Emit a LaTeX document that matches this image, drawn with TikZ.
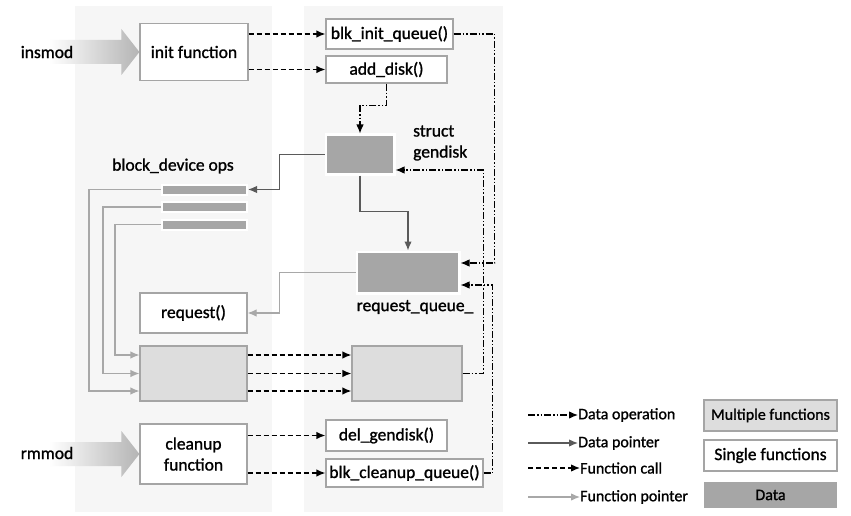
\documentclass[tikz,border=0pt]{standalone}
\usepackage{fontspec}
\setmainfont{Carlito}[RawFeature={embolden=1.2}]
\usetikzlibrary{arrows.meta,calc,backgrounds}

\definecolor{panelgray}{RGB}{246,246,246}
\definecolor{boxgray}{RGB}{165,165,165}
\definecolor{multgray}{RGB}{221,221,221}
\definecolor{datagray}{RGB}{166,166,166}
\definecolor{ptrgray}{RGB}{90,90,90}
\definecolor{fptrgray}{RGB}{168,168,168}
\definecolor{bigarrow}{RGB}{180,180,180}

\tikzset{
  lbl/.style={font=\fontsize{17.5}{21}\selectfont, inner sep=0pt},
  legend/.style={font=\fontsize{16}{19}\selectfont, inner sep=0pt},
  fnbox/.style={lbl, draw=boxgray, line width=1.2pt, fill=white, align=center},
  multbox/.style={draw=boxgray, line width=1.2pt, fill=multgray},
  databox/.style={draw=white, line width=2.5pt, fill=datagray},
  opsbar/.style={databox, line width=2pt, minimum width=85, minimum height=10},
  tip/.style={-{Latex[length=9pt,width=7.5pt]}},
  dataop/.style={tip, line width=1.2pt, dash pattern=on 7pt off 2pt on 1.5pt off 2pt on 1.5pt off 2pt},
  dptr/.style={tip, line width=1.3pt, draw=ptrgray},
  fcall/.style={tip, line width=1.3pt, dash pattern=on 5pt off 3pt},
  fptr/.style={tip, line width=1.2pt, draw=fptrgray},
}

\begin{document}
\begin{tikzpicture}[x=1pt,y=-1pt]
        \useasboundingbox (0,0) rectangle (851,516);

        % module entry points
        \node[lbl] (insmod) at (47,52) {insmod};
        \node[lbl] (rmmod) at (47,453) {rmmod};
        \node[fnbox, minimum width=108, minimum height=57] (initfn) at (194,52) {init function};
        \node[fnbox, minimum width=107, minimum height=60] (cleanup) at (193.5,454) {cleanup\\function};

        % kernel calls
        \node[fnbox, minimum width=127, minimum height=30] (blkinit) at (389.5,34) {blk\_init\_queue()};
        \node[fnbox, minimum width=121, minimum height=27] (adddisk) at (386.5,69.5) {add\_disk()};
        \node[fnbox, minimum width=121, minimum height=31] (delgd) at (386.5,435.5) {del\_gendisk()};
        \node[fnbox, minimum width=157, minimum height=28] (blkclean) at (404.5,473) {blk\_cleanup\_queue()};

        % data
        \node[databox, minimum width=68.5, minimum height=39.5] (gendisk) at (360,154.5) {};
        \node[lbl, anchor=west, align=left] (gdlabel) at (413,143) {struct\\gendisk};
        \node[databox, minimum width=102.5, minimum height=41.5] (reqq) at (408,272.5) {};
        \node[lbl] (rqlabel) at (415,307) {request\_queue\_};
        \node[lbl] (opslabel) at (173,166) {block\_device ops};
        \node[opsbar] (ops1) at (204.5,189.5) {};
        \node[opsbar] (ops2) at (204.5,207) {};
        \node[opsbar] (ops3) at (204.5,224.5) {};

        % functions
        \node[fnbox, minimum width=107, minimum height=40] (request) at (193.5,313) {request()};
        \node[multbox, minimum width=107, minimum height=55] (multl) at (193.5,373.5) {};
        \node[multbox, minimum width=110, minimum height=55] (multr) at (407,373.5) {};

        % function calls
        \draw[fcall] (initfn.east |- blkinit.west) -- (blkinit.west);
        \draw[fcall] (initfn.east |- adddisk.west) -- (adddisk.west);
        \draw[fcall] (cleanup.east |- delgd.west) -- (delgd.west);
        \draw[fcall] (cleanup.east |- blkclean.west) -- (blkclean.west);
        \foreach \dy in {-18.5,0,17.5}
          \draw[fcall] ($(multl.east)+(0,\dy)$) -- ($(multr.west)+(0,\dy)$);

        % data operations
        \draw[dataop] (adddisk.south) |- ($(gendisk.north)+(0,-28)$) -- (gendisk.north);
        \draw[dataop] (blkinit.east) -- ++(41,0) |- ($(reqq.east)+(0,-9.5)$);
        \draw[dataop] (blkclean.east) -- ++(9,0) |- ($(reqq.east)+(0,12.5)$);
        \draw[dataop] (multr.east) -- ++(21,0) |- ($(gendisk.east)+(0,15.5)$);

        % data pointers
        \draw[dptr] (gendisk.west) -- ++(-45,0) |- (ops1.east);
        \draw[dptr] (gendisk.south) -- ++(0,36) -| (reqq.north);

        % function pointers
        \draw[fptr] (reqq.west) -- ++(-76,0) |- (request.east);
        \draw[fptr] (ops1.west) -- ++(-72,0) |- ($(multl.west)+(0,17.5)$);
        \draw[fptr] (ops2.west) -- ++(-58,0) |- (multl.west);
        \draw[fptr] (ops3.west) -- ++(-46,0) |- ($(multl.west)+(0,-18.5)$);

        % legend
        \node[legend, anchor=west] (lgop) at (578,415) {Data operation};
        \node[legend, anchor=west] (lgptr) at (578,443) {Data pointer};
        \node[legend, anchor=west] (lgcall) at (580,468) {Function call};
        \node[legend, anchor=west] (lgfptr) at (580,497) {Function pointer};
        \coordinate (lgopstart) at (528,415);
        \coordinate (lgptrstart) at (528,443);
        \coordinate (lgcallstart) at (528,468);
        \coordinate (lgfptrstart) at (528,497);
        \draw[dataop] (lgopstart) -- (lgop.west);
        \draw[dptr] (lgptrstart) -- (lgptr.west);
        \draw[fcall] (lgcallstart) -- (lgcall.west);
        \draw[fptr] (lgfptrstart) -- (lgfptr.west);
        \node[legend, multbox, minimum width=133, minimum height=31] (lgmult) at (770.5,415.5) {Multiple functions};
        \node[legend, fnbox, minimum width=133, minimum height=31] (lgsingle) at (770.5,455.5) {Single functions};
        \node[legend, fill=datagray, minimum width=133, minimum height=26] (lgdata) at (770.5,495) {Data};

        \begin{scope}[on background layer]
        \fill[white] (0,0) rectangle (851,516);
        \fill[panelgray] (75,6) rectangle (272,512);
        \fill[panelgray] (304,6) rectangle (503,512);
        % big entry arrows
        \shade[left color=white, right color=bigarrow]
          ($(initfn.west)+(-90,-12)$) -- ++(72,0) -- ++(0,-11) -- (initfn.west)
          -- ($(initfn.west)+(-18,23)$) -- ++(0,-11) -- ++(-72,0) -- cycle;
        \shade[left color=white, right color=bigarrow]
          ($(cleanup.west)+(-90,-12)$) -- ++(72,0) -- ++(0,-11) -- (cleanup.west)
          -- ($(cleanup.west)+(-18,23)$) -- ++(0,-11) -- ++(-72,0) -- cycle;
        \end{scope}
\end{tikzpicture}
\end{document}
